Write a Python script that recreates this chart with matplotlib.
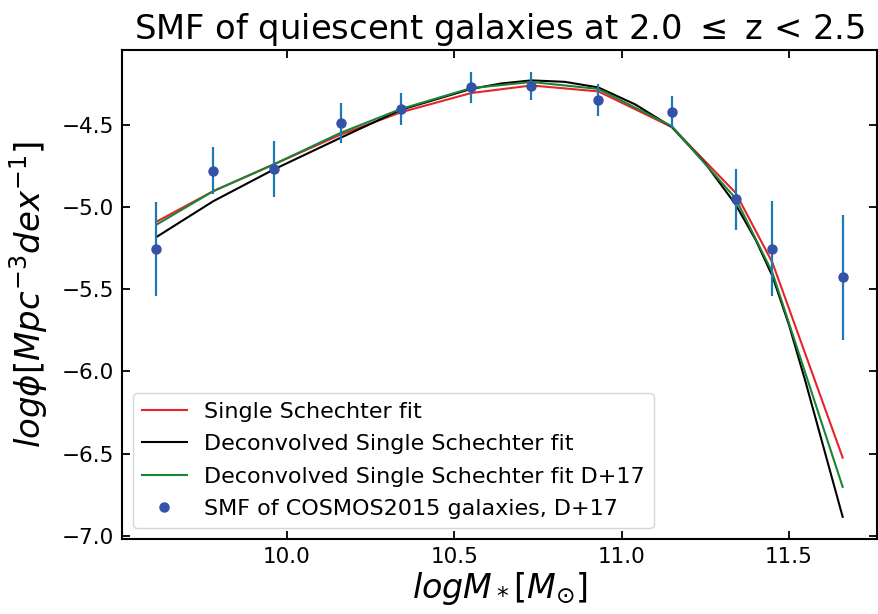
#%%
# Import Libraries
import numpy as np
import matplotlib
matplotlib.use('Agg')
import matplotlib.pyplot as plt

#%%
# Data
logm = [9.61, 9.78, 9.96, 10.16, 10.34, 10.55, 10.73, 10.93, 11.15, 11.34, 11.45, 11.66]
logphi = [-5.255, -4.779, -4.768, -4.49, -4.405, -4.274, -4.264, -4.348, -4.423, -4.955, -5.253, -5.429]
logphi_err = [0.286, 0.145, 0.17, 0.12, 0.10, 0.094, 0.084, 0.097, 0.10, 0.186, 0.286, 0.38]

# fits evaluated at the data masses
single_fit = [-5.09, -4.904, -4.742, -4.561, -4.425, -4.308, -4.262, -4.298, -4.515, -4.914, -5.338, -6.524]
deconv_d17 = [-5.108, -4.904, -4.742, -4.55, -4.405, -4.278, -4.241, -4.283, -4.51, -4.948, -5.399, -6.702]

# deconvolved fit, finer grid
deconv_m = [9.61, 9.78, 9.96, 10.16, 10.34, 10.55, 10.64, 10.73, 10.83, 10.93, 11.04, 11.15,
            11.25, 11.34, 11.40, 11.45, 11.50, 11.55, 11.60, 11.66]
deconv_fit = [-5.183, -4.965, -4.773, -4.58, -4.41, -4.283, -4.25, -4.231, -4.24, -4.274, -4.377,
              -4.515, -4.737, -4.985, -5.2, -5.42, -5.72, -6.07, -6.44, -6.884]

#%%
# Plot
fig, ax = plt.subplots(figsize=(8.79, 6.14), dpi=100)
fig.subplots_adjust(left=0.139, right=0.9977, top=0.919, bottom=0.122)

ax.plot(logm, single_fit, color='#e8232a', lw=1.5, label='Single Schechter fit')
ax.plot(deconv_m, deconv_fit, color='black', lw=1.5, label='Deconvolved Single Schechter fit')
ax.plot(logm, deconv_d17, color='#1a8436', lw=1.5, label='Deconvolved Single Schechter fit D+17')
ax.errorbar(logm, logphi, yerr=logphi_err, fmt='none', ecolor='#1f77b4', elinewidth=1.6)
ax.plot(logm, logphi, 'o', color='#3352a8', ms=6.5, label='SMF of COSMOS2015 galaxies, D+17')

ax.set_yticks([-7.0, -6.5, -6.0, -5.5, -5.0, -4.5])
ax.set_xticks([10.0, 10.5, 11.0, 11.5])
ax.tick_params(direction='in', top=True, right=True, labelsize=15.5, length=6, width=1.3, pad=6)
for s in ax.spines.values():
    s.set_linewidth(1.5)

ax.set_xlabel(r'$logM_*[M_{\odot}]$', fontsize=24, labelpad=2)
ax.set_ylabel(r'$log\phi[Mpc^{-3}dex^{-1}]$', fontsize=24.5, labelpad=8)
ax.set_title(r'SMF of quiescent galaxies at 2.0 $\leq$ z < 2.5', fontsize=24.3, pad=8)

ax.legend(loc='lower left', fontsize=16, handlelength=2.0, labelspacing=0.56)

plt.savefig('out.png', dpi=100)
